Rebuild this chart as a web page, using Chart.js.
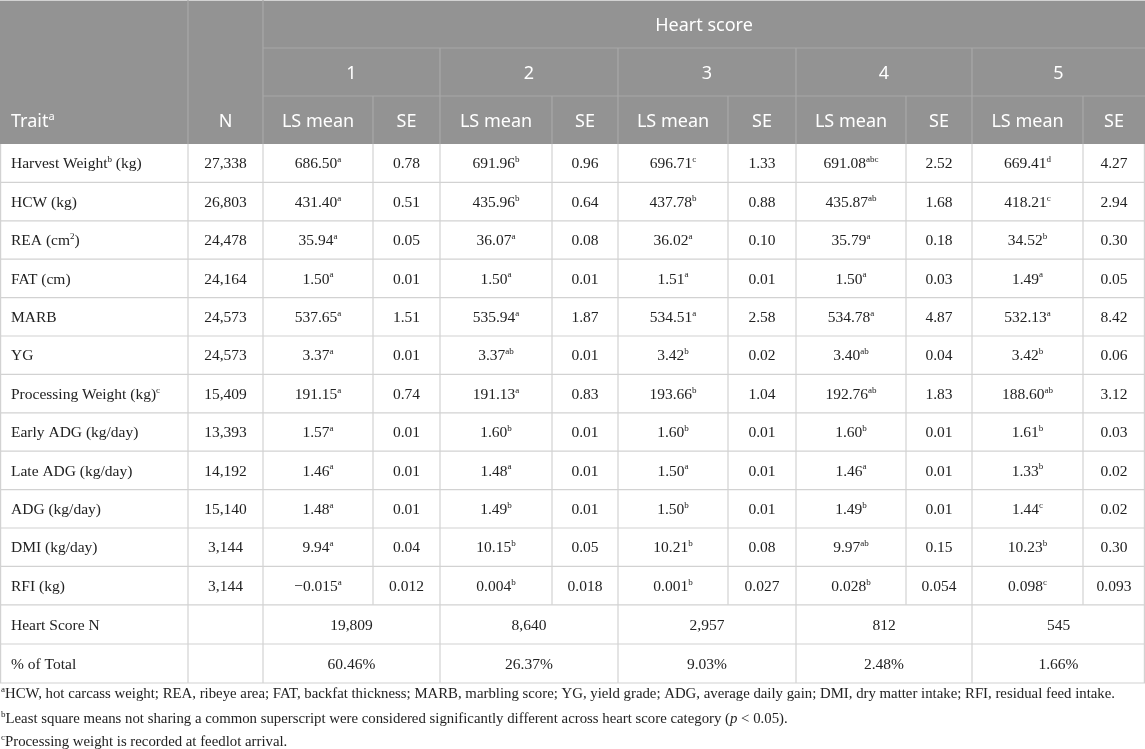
<!DOCTYPE html>
<html>
<head>
<meta charset="utf-8">
<script src="https://cdn.jsdelivr.net/npm/chart.js@4.4.1/dist/chart.umd.min.js"></script>
<style>
  html, body { margin: 0; padding: 0; background: #ffffff; }
  #wrap { width: 1145px; height: 749px; position: relative; }
</style>
</head>
<body>
<div id="wrap"><canvas id="c" width="1145" height="749"></canvas></div>
<script>
// ---------------- DATA ----------------
const groupTitle = 'Heart score';
const scoreLabels = ['1', '2', '3', '4', '5'];
const headerTrait = 'Trait^{a}';
const headerN = 'N';
const headerMean = 'LS mean';
const headerSE = 'SE';

const traitLabels = [
  'Harvest Weight^{b} (kg)', 'HCW (kg)', 'REA (cm^{2})', 'FAT (cm)', 'MARB', 'YG',
  'Processing Weight (kg)^{c}', 'Early ADG (kg/day)', 'Late ADG (kg/day)',
  'ADG (kg/day)', 'DMI (kg/day)', 'RFI (kg)'
];
const nValues = ['27,338', '26,803', '24,478', '24,164', '24,573', '24,573',
  '15,409', '13,393', '14,192', '15,140', '3,144', '3,144'];

const score1Mean = ['686.50', '431.40', '35.94', '1.50', '537.65', '3.37', '191.15', '1.57', '1.46', '1.48', '9.94', '\u22120.015'];
const score1Sup  = ['a', 'a', 'a', 'a', 'a', 'a', 'a', 'a', 'a', 'a', 'a', 'a'];
const score1SE   = ['0.78', '0.51', '0.05', '0.01', '1.51', '0.01', '0.74', '0.01', '0.01', '0.01', '0.04', '0.012'];

const score2Mean = ['691.96', '435.96', '36.07', '1.50', '535.94', '3.37', '191.13', '1.60', '1.48', '1.49', '10.15', '0.004'];
const score2Sup  = ['b', 'b', 'a', 'a', 'a', 'ab', 'a', 'b', 'a', 'b', 'b', 'b'];
const score2SE   = ['0.96', '0.64', '0.08', '0.01', '1.87', '0.01', '0.83', '0.01', '0.01', '0.01', '0.05', '0.018'];

const score3Mean = ['696.71', '437.78', '36.02', '1.51', '534.51', '3.42', '193.66', '1.60', '1.50', '1.50', '10.21', '0.001'];
const score3Sup  = ['c', 'b', 'a', 'a', 'a', 'b', 'b', 'b', 'a', 'b', 'b', 'b'];
const score3SE   = ['1.33', '0.88', '0.10', '0.01', '2.58', '0.02', '1.04', '0.01', '0.01', '0.01', '0.08', '0.027'];

const score4Mean = ['691.08', '435.87', '35.79', '1.50', '534.78', '3.40', '192.76', '1.60', '1.46', '1.49', '9.97', '0.028'];
const score4Sup  = ['abc', 'ab', 'a', 'a', 'a', 'ab', 'ab', 'b', 'a', 'b', 'ab', 'b'];
const score4SE   = ['2.52', '1.68', '0.18', '0.03', '4.87', '0.04', '1.83', '0.01', '0.01', '0.01', '0.15', '0.054'];

const score5Mean = ['669.41', '418.21', '34.52', '1.49', '532.13', '3.42', '188.60', '1.61', '1.33', '1.44', '10.23', '0.098'];
const score5Sup  = ['d', 'c', 'b', 'a', 'a', 'b', 'ab', 'b', 'b', 'c', 'b', 'c'];
const score5SE   = ['4.27', '2.94', '0.30', '0.05', '8.42', '0.06', '3.12', '0.03', '0.02', '0.02', '0.30', '0.093'];

const summaryLabels = ['Heart Score N', '% of Total'];
const heartScoreN = ['19,809', '8,640', '2,957', '812', '545'];
const pctTotal = ['60.46%', '26.37%', '9.03%', '2.48%', '1.66%'];

const footnotes = [
  '^{a}HCW, hot carcass weight; REA, ribeye area; FAT, backfat thickness; MARB, marbling score; YG, yield grade; ADG, average daily gain; DMI, dry matter intake; RFI, residual feed intake.',
  '^{b}Least square means not sharing a common superscript were considered significantly different across heart score category (_{p} < 0.05).',
  '^{c}Processing weight is recorded at feedlot arrival.'
];

// ---------------- LAYOUT (positions/styles) ----------------
const W = 1145, H = 749;
const colEdges = [0, 188, 263, 373, 440, 552, 618, 728, 796, 906, 972, 1083, 1145];
const headerEdges = [0, 48, 96, 144];
const dataTop = 144, dataRowH = 38.4;
const summaryEdges = [604.8, 644, 683];
const footY = [693, 718, 741];
const SERIF = '"Liberation Serif", "Times New Roman", serif';
const SANS = '"Noto Sans", "Open Sans", sans-serif';
const HEAD_BG = '#939393';
const HEAD_LINE = '#a8a8a8';
const GRID = '#d2d2d2';
const TEXT = '#222222';
const BODY_SIZE = 15.5;
const FOOT_SIZE = 14.8;

const means = [score1Mean, score2Mean, score3Mean, score4Mean, score5Mean];
const sups = [score1Sup, score2Sup, score3Sup, score4Sup, score5Sup];
const ses = [score1SE, score2SE, score3SE, score4SE, score5SE];

function parseRich(str) {
  const segs = [];
  const re = /(\^|_)\{([^}]*)\}/g;
  let last = 0, m;
  while ((m = re.exec(str)) !== null) {
    if (m.index > last) segs.push({ t: str.slice(last, m.index), k: 'n' });
    segs.push({ t: m[2], k: m[1] === '^' ? 's' : 'i' });
    last = re.lastIndex;
  }
  if (last < str.length) segs.push({ t: str.slice(last), k: 'n' });
  return segs;
}

function drawRich(ctx, segs, x, cy, align, family, size, color) {
  const supSize = Math.round(size * 0.6);
  const fontFor = k => k === 's' ? `${supSize}px ${family}` : (k === 'i' ? `italic ${size}px ${family}` : `${size}px ${family}`);
  let total = 0;
  const widths = segs.map(s => { ctx.font = fontFor(s.k); const w = ctx.measureText(s.t).width; total += w; return w; });
  let cx = align === 'center' ? x - total / 2 : x;
  const base = cy + size * 0.33;
  ctx.fillStyle = color;
  ctx.textAlign = 'left';
  ctx.textBaseline = 'alphabetic';
  segs.forEach((s, i) => {
    ctx.font = fontFor(s.k);
    const yy = s.k === 's' ? base - size * 0.4 : base;
    ctx.fillText(s.t, cx, yy);
    cx += widths[i];
  });
}

const tablePlugin = {
  id: 'tableDraw',
  afterDraw(chart) {
    const ctx = chart.ctx;
    const xs = chart.scales.x, ys = chart.scales.y;
    const X = v => xs.getPixelForValue(v);
    const Y = v => ys.getPixelForValue(v);
    const line = (x1, y1, x2, y2, col) => {
      ctx.strokeStyle = col; ctx.lineWidth = 1.2;
      ctx.beginPath(); ctx.moveTo(X(x1), Y(y1)); ctx.lineTo(X(x2), Y(y2)); ctx.stroke();
    };
    const midX = (a, b) => (X(colEdges[a]) + X(colEdges[b])) / 2;
    const midY = (a, b) => (Y(a) + Y(b)) / 2;
    ctx.save();
    // backgrounds
    ctx.fillStyle = '#ffffff';
    ctx.fillRect(X(0), Y(0), X(W) - X(0), Y(H) - Y(0));
    ctx.fillStyle = HEAD_BG;
    ctx.fillRect(X(0), Y(headerEdges[0]), X(W) - X(0), Y(headerEdges[3]) - Y(headerEdges[0]));

    // header lines
    line(0, 0.5, W, 0.5, GRID);
    line(colEdges[2], headerEdges[1], W, headerEdges[1], HEAD_LINE);
    line(colEdges[2], headerEdges[2], W, headerEdges[2], HEAD_LINE);
    line(colEdges[1], 0, colEdges[1], headerEdges[3], HEAD_LINE);
    line(colEdges[2], 0, colEdges[2], headerEdges[3], HEAD_LINE);
    for (let s = 0; s < 5; s++) {
      const c = 2 + s * 2;
      if (s > 0) line(colEdges[c], headerEdges[1], colEdges[c], headerEdges[3], HEAD_LINE);
      line(colEdges[c + 1], headerEdges[2], colEdges[c + 1], headerEdges[3], HEAD_LINE);
    }

    // header text
    drawRich(ctx, parseRich(groupTitle), midX(2, 12), midY(headerEdges[0], headerEdges[1]) + 1, 'center', SANS, 18, '#ffffff');
    scoreLabels.forEach((lab, s) => {
      const c = 2 + s * 2;
      drawRich(ctx, parseRich(lab), midX(c, c + 2), midY(headerEdges[1], headerEdges[2]) + 1, 'center', SANS, 18, '#ffffff');
      drawRich(ctx, parseRich(headerMean), midX(c, c + 1), midY(headerEdges[2], headerEdges[3]) + 1, 'center', SANS, 18, '#ffffff');
      drawRich(ctx, parseRich(headerSE), midX(c + 1, c + 2), midY(headerEdges[2], headerEdges[3]) + 1, 'center', SANS, 18, '#ffffff');
    });
    drawRich(ctx, parseRich(headerTrait), X(colEdges[0] + 11), midY(headerEdges[2], headerEdges[3]) + 1, 'left', SANS, 18, '#ffffff');
    drawRich(ctx, parseRich(headerN), midX(1, 2), midY(headerEdges[2], headerEdges[3]) + 1, 'center', SANS, 18, '#ffffff');

    // data rows
    const rowEdges = [];
    for (let r = 0; r <= traitLabels.length; r++) rowEdges.push(dataTop + r * dataRowH);
    traitLabels.forEach((lab, r) => {
      const cy = midY(rowEdges[r], rowEdges[r + 1]);
      drawRich(ctx, parseRich(lab), X(colEdges[0] + 11), cy, 'left', SERIF, BODY_SIZE, TEXT);
      drawRich(ctx, parseRich(nValues[r]), midX(1, 2), cy, 'center', SERIF, BODY_SIZE, TEXT);
      for (let s = 0; s < 5; s++) {
        const c = 2 + s * 2;
        drawRich(ctx, parseRich(means[s][r] + '^{' + sups[s][r] + '}'), midX(c, c + 1), cy, 'center', SERIF, BODY_SIZE, TEXT);
        drawRich(ctx, parseRich(ses[s][r]), midX(c + 1, c + 2), cy, 'center', SERIF, BODY_SIZE, TEXT);
      }
    });
    // summary rows
    const summaryVals = [heartScoreN, pctTotal];
    summaryLabels.forEach((lab, r) => {
      const cy = midY(summaryEdges[r], summaryEdges[r + 1]);
      drawRich(ctx, parseRich(lab), X(colEdges[0] + 11), cy, 'left', SERIF, BODY_SIZE, TEXT);
      summaryVals[r].forEach((v, s) => {
        const c = 2 + s * 2;
        drawRich(ctx, parseRich(v), midX(c, c + 2), cy, 'center', SERIF, BODY_SIZE, TEXT);
      });
    });

    // grid lines body
    const bodyBottom = summaryEdges[summaryEdges.length - 1];
    rowEdges.slice(1).forEach(y => line(0, y, W, y, GRID));
    summaryEdges.slice(1).forEach(y => line(0, y, W, y, GRID));
    line(0.6, headerEdges[3], 0.6, bodyBottom, GRID);
    line(W - 0.6, headerEdges[3], W - 0.6, bodyBottom, GRID);
    for (let c = 1; c < colEdges.length - 1; c++) {
      const isSE = c >= 3 && (c % 2 === 1);
      line(colEdges[c], headerEdges[3], colEdges[c], isSE ? rowEdges[rowEdges.length - 1] : bodyBottom, GRID);
    }

    // footnotes
    footnotes.forEach((f, i) => {
      drawRich(ctx, parseRich(f), X(1), Y(footY[i]), 'left', SERIF, FOOT_SIZE, '#222222');
    });
    ctx.restore();
  }
};

new Chart(document.getElementById('c'), {
  type: 'scatter',
  data: { datasets: [] },
  options: {
    responsive: false,
    animation: false,
    devicePixelRatio: 1,
    layout: { padding: 0 },
    plugins: { legend: { display: false }, tooltip: { enabled: false } },
    scales: {
      x: { type: 'linear', min: 0, max: W, display: false },
      y: { type: 'linear', min: 0, max: H, reverse: true, display: false }
    }
  },
  plugins: [tablePlugin]
});
</script>
</body>
</html>
